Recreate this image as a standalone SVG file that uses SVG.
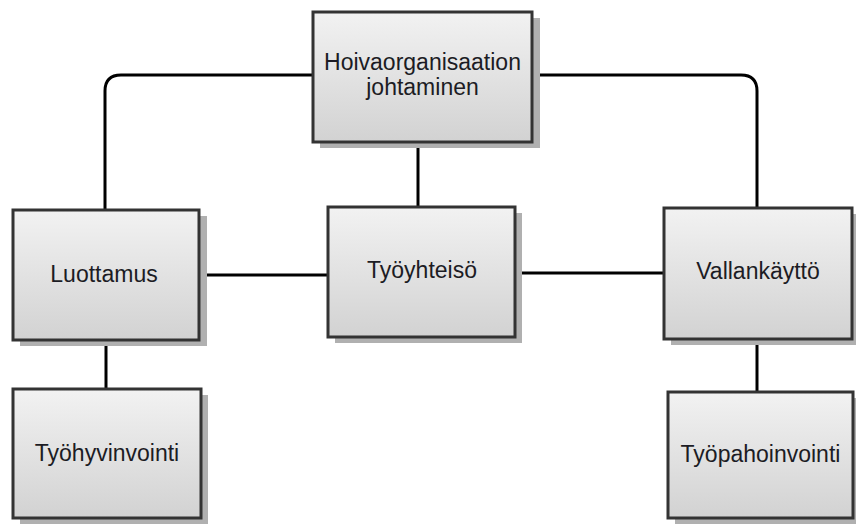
<svg xmlns="http://www.w3.org/2000/svg" width="856" height="524" viewBox="0 0 856 524">
<defs>
<linearGradient id="g" x1="0" y1="0" x2="0" y2="1">
<stop offset="0" stop-color="#f2f2f2"/>
<stop offset="1" stop-color="#d2d2d2"/>
</linearGradient>
<style>
.sh{fill:#b0b0b0}
.bx{fill:url(#g);stroke:#333;stroke-width:3}
.t{font-family:"Liberation Sans",Arial,sans-serif;font-size:23px;fill:#1c1c24;text-anchor:middle}
.c{fill:none;stroke:#000;stroke-width:3}
</style>
</defs>
<rect width="856" height="524" fill="#fff"/>
<g id="connectors">
<path class="c" d="M313 75 H121 Q105 75 105 91 V210"/>
<path class="c" d="M532 75 H741 Q757 75 757 91 V208"/>
<path class="c" d="M418 142 V207"/>
<path class="c" d="M199 275 H328"/>
<path class="c" d="M515 273 H664"/>
<path class="c" d="M106 340 V389"/>
<path class="c" d="M757 339 V392"/>
</g>
<g id="hoiva">
<rect class="sh" x="320" y="18" width="220" height="130"/>
<rect class="bx" x="313" y="12" width="219" height="130"/>
<text class="t" x="422.5" y="70">Hoivaorganisaation</text>
<text class="t" x="422.5" y="95">johtaminen</text>
</g>
<g id="luottamus">
<rect class="sh" x="20" y="216" width="187" height="130"/>
<rect class="bx" x="13" y="210" width="186" height="130"/>
<text class="t" x="104" y="282">Luottamus</text>
</g>
<g id="tyoyhteiso">
<rect class="sh" x="335" y="213" width="187" height="130"/>
<rect class="bx" x="328" y="207" width="187" height="130"/>
<text class="t" x="422" y="278">Työyhteisö</text>
</g>
<g id="vallankaytto">
<rect class="sh" x="671" y="214" width="185" height="131"/>
<rect class="bx" x="664" y="208" width="188" height="131"/>
<text class="t" x="758" y="279">Vallankäyttö</text>
</g>
<g id="tyohyvinvointi">
<rect class="sh" x="20" y="395" width="188" height="129"/>
<rect class="bx" x="13" y="389" width="188" height="129"/>
<text class="t" x="107" y="461">Työhyvinvointi</text>
</g>
<g id="tyopahoinvointi">
<rect class="sh" x="675" y="398" width="181" height="126"/>
<rect class="bx" x="668" y="392" width="185" height="126"/>
<text class="t" x="760.5" y="462">Työpahoinvointi</text>
</g>
</svg>
